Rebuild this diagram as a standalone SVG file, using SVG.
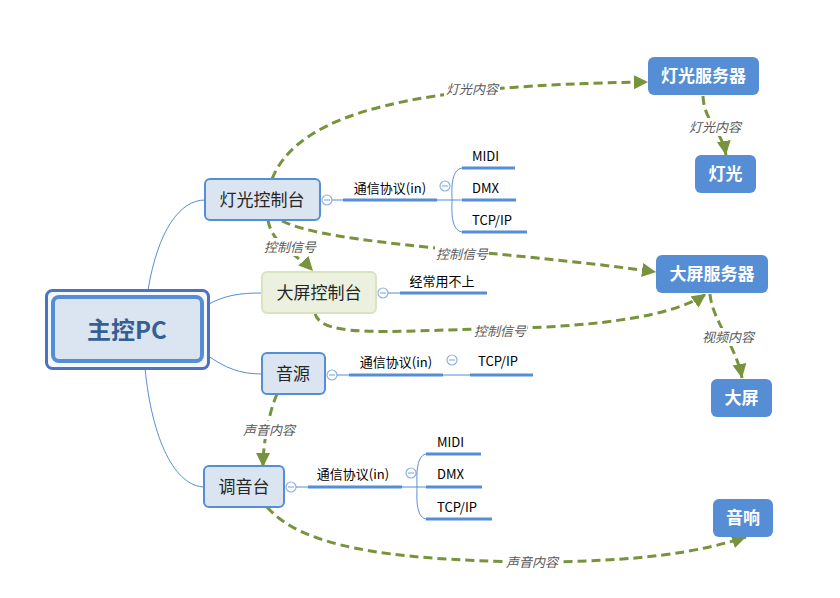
<svg xmlns="http://www.w3.org/2000/svg" width="840" height="598" viewBox="0 0 840 598">
<defs>
<style>
.node{fill:#dbe5f1;stroke:#558ed5;stroke-width:2}
.green{fill:#ebf1de;stroke:#d7e4bd;stroke-width:2}
.srv{fill:#558ed5}
.t{font-family:"Noto Sans CJK SC","Liberation Sans",sans-serif;fill:#262626;text-anchor:middle}
.tw{font-family:"Noto Sans CJK SC","Liberation Sans",sans-serif;fill:#ffffff;font-weight:bold;font-size:17px;text-anchor:middle}
.s{font-family:"Noto Sans CJK SC","Liberation Sans",sans-serif;fill:#000;font-size:13px}
.lbl{font-family:"Noto Sans CJK SC","Liberation Sans",sans-serif;fill:#595959;font-size:13px;font-style:italic;text-anchor:middle}
.thin{fill:none;stroke:#558ed5;stroke-width:1}
.thick{fill:none;stroke:#558ed5;stroke-width:3}
.dash{fill:none;stroke:#77933c;stroke-width:3;stroke-dasharray:9,5;marker-end:url(#arr)}
.col{fill:#fff;stroke:#8db3e2;stroke-width:1.2}
</style>
<marker id="arr" markerUnits="userSpaceOnUse" markerWidth="16" markerHeight="16" refX="14" refY="7" orient="auto">
<path d="M0,0 L14,7 L0,14 z" fill="#77933c"/>
</marker>
</defs>
<rect width="840" height="598" fill="#fff"/>

<g id="connectors">
<path class="thin" d="M148,290 C158,230 180,200 205,200"/>
<path class="thin" d="M207,305 C225,295 240,293 262,293"/>
<path class="thin" d="M207,355 C225,368 240,374 262,374"/>
<path class="thin" d="M145,368 C152,440 175,487 205,487"/>

<path class="dash" d="M272,179 C300,110 420,85 648,82"/>
<path class="dash" d="M703,96 C704,122 722,130 726,155"/>
<path class="dash" d="M268,220 C272,245 298,255 313,271"/>
<path class="dash" d="M282,221 C330,245 500,250 656,272"/>
<path class="dash" d="M315,313 C320,340 400,330 520,328 C620,325 680,312 706,294"/>
<path class="dash" d="M710,294 C712,320 736,345 742,378"/>
<path class="dash" d="M277,394 C270,410 263,440 263,467"/>
<path class="dash" d="M267,507 C300,545 380,560 530,562 C640,562 700,552 746,537"/>

<g id="labels">
<rect x="444" y="80" width="56" height="18" fill="#fff"/>
<text class="lbl" x="472" y="94">灯光内容</text>
<rect x="688" y="118" width="54" height="18" fill="#fff"/>
<text class="lbl" x="715" y="132">灯光内容</text>
<rect x="263" y="238" width="54" height="18" fill="#fff"/>
<text class="lbl" x="290" y="252">控制信号</text>
<rect x="435" y="245" width="54" height="18" fill="#fff"/>
<text class="lbl" x="462" y="259">控制信号</text>
<rect x="473" y="322" width="54" height="18" fill="#fff"/>
<text class="lbl" x="500" y="336">控制信号</text>
<rect x="701" y="328" width="54" height="18" fill="#fff"/>
<text class="lbl" x="728" y="342">视频内容</text>
<rect x="242" y="421" width="54" height="18" fill="#fff"/>
<text class="lbl" x="269" y="435">声音内容</text>
<rect x="505" y="553" width="54" height="18" fill="#fff"/>
<text class="lbl" x="532" y="567">声音内容</text>
</g>
</g>

<g id="main">
<rect x="46.5" y="290.5" width="162" height="78" rx="6" fill="#f4f7fb" stroke="#4d72bf" stroke-width="3"/>
<rect x="53" y="297" width="149" height="64" rx="6" fill="#dbe5f1" stroke="#558ed5" stroke-width="4"/>
<text x="127" y="339" font-family="'Noto Sans CJK SC','Liberation Sans',sans-serif" font-size="24" font-weight="bold" fill="#365f91" text-anchor="middle">主控PC</text>
</g>

<g id="lightConsole">
<rect class="node" x="205" y="179" width="115" height="41" rx="5"/>
<text class="t" x="262" y="206" font-size="17">灯光控制台</text>
<circle class="col" cx="327" cy="200" r="5"/><path d="M324,200 H330" stroke="#8db3e2" stroke-width="1.2"/>
<path class="thin" d="M332,200 H343"/>
<path class="thick" d="M343,200 H437"/>
<text class="s" x="390" y="193" text-anchor="middle">通信协议(in)</text>
<circle class="col" cx="445" cy="186" r="5"/><path d="M442,186 H448" stroke="#8db3e2" stroke-width="1.2"/>
<path class="thin" d="M437,200 H462 M462,168 C450,170 452,192 452,200 C452,208 450,230 462,232"/>
<path class="thick" d="M462,168 H515 M462,200 H516 M462,232 H527"/>
<text class="s" x="472" y="161">MIDI</text>
<text class="s" x="472" y="193">DMX</text>
<text class="s" x="472" y="225">TCP/IP</text>
</g>

<g id="screenConsole">
<rect class="green" x="262" y="272" width="114" height="41" rx="5"/>
<text class="t" x="319" y="299" font-size="17">大屏控制台</text>
<circle class="col" cx="383" cy="293" r="5"/><path d="M380,293 H386" stroke="#8db3e2" stroke-width="1.2"/>
<path class="thin" d="M388,293 H400"/>
<path class="thick" d="M400,293 H487"/>
<text class="s" x="442" y="286" text-anchor="middle">经常用不上</text>
</g>

<g id="audioSource">
<rect class="node" x="262" y="353" width="63" height="41" rx="5"/>
<text class="t" x="293" y="380" font-size="17">音源</text>
<circle class="col" cx="332" cy="375" r="5"/><path d="M329,375 H335" stroke="#8db3e2" stroke-width="1.2"/>
<path class="thin" d="M337,375 H349"/>
<path class="thick" d="M349,375 H443"/>
<text class="s" x="396" y="367" text-anchor="middle">通信协议(in)</text>
<circle class="col" cx="452" cy="360" r="5"/><path d="M449,360 H455" stroke="#8db3e2" stroke-width="1.2"/>
<path class="thin" d="M443,375 H470"/>
<path class="thick" d="M470,375 H533"/>
<text class="s" x="478" y="366">TCP/IP</text>
</g>

<g id="mixer">
<rect class="node" x="204" y="466" width="80" height="41" rx="5"/>
<text class="t" x="244" y="493" font-size="17">调音台</text>
<circle class="col" cx="291" cy="487" r="5"/><path d="M288,487 H294" stroke="#8db3e2" stroke-width="1.2"/>
<path class="thin" d="M296,487 H308"/>
<path class="thick" d="M308,487 H402"/>
<text class="s" x="353" y="479" text-anchor="middle">通信协议(in)</text>
<circle class="col" cx="411" cy="473" r="5"/><path d="M408,473 H414" stroke="#8db3e2" stroke-width="1.2"/>
<path class="thin" d="M402,487 H426 M426,454 C415,456 417,480 417,487 C417,494 415,517 426,519"/>
<path class="thick" d="M426,454 H481 M426,487 H482 M426,519 H492"/>
<text class="s" x="437" y="447">MIDI</text>
<text class="s" x="437" y="479">DMX</text>
<text class="s" x="437" y="512">TCP/IP</text>
</g>

<g id="lightServer">
<rect class="srv" x="648" y="57" width="111" height="38" rx="6"/>
<text class="tw" x="703.5" y="82">灯光服务器</text>
</g>
<g id="light">
<rect class="srv" x="695" y="155" width="61" height="38" rx="6"/>
<text class="tw" x="725.5" y="180">灯光</text>
</g>
<g id="screenServer">
<rect class="srv" x="656" y="255" width="112" height="38" rx="6"/>
<text class="tw" x="712" y="280">大屏服务器</text>
</g>
<g id="screen">
<rect class="srv" x="711" y="379" width="61" height="38" rx="6"/>
<text class="tw" x="741.5" y="404">大屏</text>
</g>
<g id="speaker">
<rect class="srv" x="713" y="499" width="60" height="38" rx="6"/>
<text class="tw" x="743" y="524">音响</text>
</g>
</svg>
